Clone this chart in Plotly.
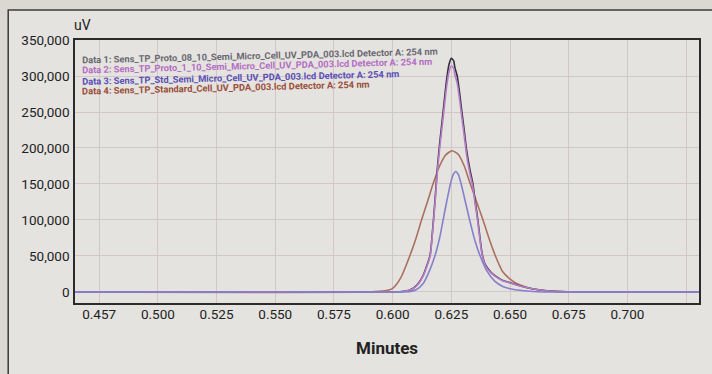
import plotly.graph_objects as go

# Chromatogram traces (retention time in minutes, detector response in uV)
t1 = [0.4647, 0.600, 0.604, 0.607, 0.609, 0.611, 0.613, 0.6145, 0.616, 0.617, 0.618, 0.619,
      0.620, 0.6215, 0.623, 0.624, 0.625, 0.626, 0.6265, 0.6275, 0.6285, 0.6295, 0.6305,
      0.6315, 0.6328, 0.6342, 0.6352, 0.6363, 0.6372, 0.6382, 0.6395, 0.642, 0.645, 0.6469,
      0.650, 0.656, 0.6635, 0.670, 0.680, 0.7305]
v1 = [0, 0, 600, 2500, 5500, 12000, 23000, 36000, 52000, 85000, 125000, 170000,
      205000, 250000, 295000, 316000, 324500, 321000, 312000, 300000, 277000, 250000, 224000,
      197000, 172000, 150000, 125000, 100000, 75000, 52000, 38000, 27000, 19500, 16000,
      13000, 7000, 2500, 600, 0, 0]

t2 = t1
v2 = [0, 0, 580, 2420, 5320, 11600, 22240, 34800, 50300, 82200, 120900, 164400,
      198200, 241800, 285300, 305600, 313800, 310400, 301700, 290100, 267900, 241800, 216600,
      190500, 166300, 145100, 120900, 96700, 72500, 50300, 36700, 26100, 18900, 15500,
      12600, 6800, 2400, 580, 0, 0]

t3 = [0.4647, 0.603, 0.6076, 0.610, 0.613, 0.6155, 0.618, 0.620, 0.6215, 0.623, 0.6246,
      0.6258, 0.6269, 0.628, 0.6292, 0.631, 0.6328, 0.635, 0.6373, 0.640, 0.6435, 0.6469,
      0.650, 0.655, 0.660, 0.667, 0.7305]
v3 = [0, 0, 800, 3000, 11700, 28000, 50000, 75000, 100000, 125000, 150000,
      163000, 167400, 163000, 150000, 125000, 100000, 72000, 50000, 30000, 15000, 7500,
      4500, 2000, 700, 0, 0]

t4 = [0.4647, 0.590, 0.5967, 0.600, 0.6035, 0.6073, 0.610, 0.6123, 0.6148, 0.6172, 0.620,
      0.6225, 0.6253, 0.628, 0.6305, 0.6331, 0.6358, 0.6385, 0.641, 0.6438, 0.6469, 0.650,
      0.654, 0.658, 0.662, 0.668, 0.675, 0.685, 0.7305]
v4 = [0, 0, 1500, 5000, 20000, 50000, 75000, 100000, 125000, 150000, 175000,
      190000, 196200, 191000, 175000, 150000, 125000, 100000, 75000, 50000, 28000, 18000,
      10000, 5500, 3000, 1200, 400, 0, 0]

series_names = [
    "Data 1: Sens_TP_Proto_08_10_Semi_Micro_Cell_UV_PDA_003.lcd Detector A: 254 nm",
    "Data 2: Sens_TP_Proto_1_10_Semi_Micro_Cell_UV_PDA_003.lcd Detector A: 254 nm",
    "Data 3: Sens_TP_Std_Semi_Micro_Cell_UV_PDA_003.lcd Detector A: 254 nm",
    "Data 4: Sens_TP_Standard_Cell_UV_PDA_003.lcd Detector A: 254 nm",
]
line_colors = ["#352d3e", "#b77cc6", "#8480cc", "#ab6f5e"]
text_colors = ["#6b6972", "#b46ec4", "#5a4eb6", "#9a4e3a"]

x_tickvals = [0.475, 0.500, 0.525, 0.550, 0.575, 0.600, 0.625, 0.650, 0.675, 0.700, 0.725]
x_ticktext = ["0.457", "0.500", "0.525", "0.550", "0.575", "0.600", "0.625", "0.650",
              "0.675", "0.700", ""]
y_tickvals = [0, 50000, 100000, 150000, 200000, 250000, 300000, 350000]

W, H = 712, 374
ML, MR, MT, MB = 75, 11, 40, 71
PW, PH = W - ML - MR, H - MT - MB


def px(x):
    return (x - ML) / PW


def py(y):
    return (H - MB - y) / PH


FONT = "Roboto, Liberation Sans, sans-serif"

fig = go.Figure()
for t, v, name, col in [(t4, v4, series_names[3], line_colors[3]),
                        (t1, v1, series_names[0], line_colors[0]),
                        (t2, v2, series_names[1], line_colors[1]),
                        (t3, v3, series_names[2], line_colors[2])]:
    fig.add_trace(go.Scatter(x=t, y=v, mode="lines", name=name,
                             line=dict(color=col, width=1.6, shape="spline", smoothing=0.6),
                             showlegend=False))

annotations = []
# series captions, set slightly askew as printed
starts = [(80, 55.0), (80, 66.0), (80, 77.0), (80, 87.8)]
for (sx, sy), name, tc in zip(starts, series_names, text_colors):
    annotations.append(dict(text="<b>%s</b>" % name, x=px(sx), y=py(sy),
                            xref="paper", yref="paper", xanchor="left", yanchor="middle",
                            showarrow=False, textangle=-1.4,
                            font=dict(family=FONT, size=9.3, color=tc)))
annotations.append(dict(text="uV", x=px(83), y=py(25), xref="paper", yref="paper",
                        xanchor="center", yanchor="middle", showarrow=False,
                        font=dict(family=FONT, size=14, color="#222222")))
annotations.append(dict(text="<b>Minutes</b>", x=px(388), y=py(348), xref="paper",
                        yref="paper", xanchor="center", yanchor="middle", showarrow=False,
                        font=dict(family=FONT, size=17, color="#222222")))

shapes = [dict(type="rect", xref="paper", yref="paper", x0=px(8), x1=px(730),
               y0=py(10), y1=py(400), fillcolor="#e4e3df",
               line=dict(color="#3c3c3c", width=1.5), layer="below")]

fig.update_layout(
    width=W, height=H,
    margin=dict(l=ML, r=MR, t=MT, b=MB),
    paper_bgcolor="#dbd8d2",
    plot_bgcolor="#fbfbfd",
    annotations=annotations,
    shapes=shapes,
    xaxis=dict(range=[0.4647, 0.7305], tickvals=x_tickvals, ticktext=x_ticktext,
               showgrid=True, gridcolor="#d2c6c6", gridwidth=1.3, zeroline=False,
               showline=True, linecolor="#2b2b2b", linewidth=1.5, mirror=True,
               ticks="", ticklabelstandoff=-2,
               tickfont=dict(family=FONT, size=13.5, color="#222222")),
    yaxis=dict(range=[-15300, 350000], tickvals=y_tickvals, tickformat=",d",
               showgrid=True, gridcolor="#d2c6c6", gridwidth=1.3, zeroline=False,
               showline=True, linecolor="#2b2b2b", linewidth=1.5, mirror=True,
               ticks="", ticklabelstandoff=1,
               tickfont=dict(family=FONT, size=13.5, color="#222222")),
)

fig.write_html("out.html")
